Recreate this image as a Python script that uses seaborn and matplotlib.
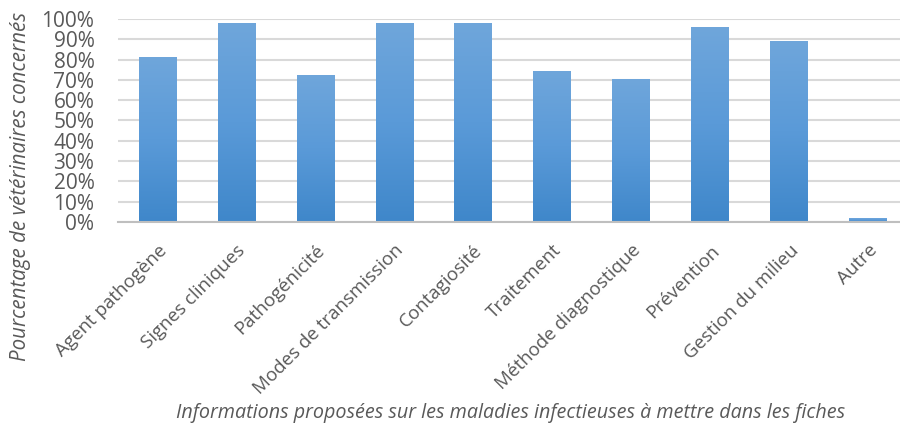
import numpy as np
import pandas as pd
import matplotlib
matplotlib.use("Agg")
import matplotlib.pyplot as plt
import seaborn as sns
from matplotlib.colors import LinearSegmentedColormap
from matplotlib.ticker import PercentFormatter

categories = ["Agent pathogène", "Signes cliniques", "Pathogénicité", "Modes de transmission",
              "Contagiosité", "Traitement", "Méthode diagnostique", "Prévention",
              "Gestion du milieu", "Autre"]
values = [81, 98, 72, 98, 98, 74, 70, 96, 89, 1.5]

sns.set_theme(style="white")
plt.rcParams['font.family'] = ['Open Sans', 'DejaVu Sans']

df = pd.DataFrame({"cat": categories, "val": values})

fig = plt.figure(figsize=(9, 4.3), dpi=100)
ax = fig.add_axes([118/900, 1-222/430, 1-118/900, (222-19)/430])

sns.barplot(data=df, x="cat", y="val", ax=ax, color="#5b9bd5", width=0.48, saturation=1)

cmap = LinearSegmentedColormap.from_list("g", ["#3f87ca", "#5a9ad8", "#6fa6db"])
grad = np.linspace(0, 1, 256).reshape(-1, 1)
for p in ax.patches:
    x0, y0 = p.get_x(), p.get_y()
    w, h = p.get_width(), p.get_height()
    ax.imshow(grad, cmap=cmap, aspect="auto", origin="lower",
              extent=(x0, x0 + w, y0, y0 + h), zorder=3)
    p.set_visible(False)
ax.set_ylim(0, 100)
ax.set_xlim(-0.5, 9.4)

ax.set_yticks(np.arange(0, 101, 10))
ax.yaxis.set_major_formatter(PercentFormatter(decimals=0))
ax.grid(axis="y", color="#d9d9d9", linewidth=1.5, zorder=0)
ax.set_axisbelow(True)
for s in ["top", "right", "left"]:
    ax.spines[s].set_visible(False)
ax.spines["bottom"].set_color("#bfbfbf")
ax.spines["bottom"].set_linewidth(1.5)
ax.spines["bottom"].set_zorder(4)

ax.tick_params(axis="y", labelsize=15, colors="#595959", length=0, pad=17)
ax.tick_params(axis="x", labelsize=13.5, colors="#595959", length=0, pad=14)
for lbl in ax.get_xticklabels():
    lbl.set_rotation(45)
    lbl.set_ha("right")
    lbl.set_rotation_mode("anchor")

ax.set_xlabel("")
ax.set_ylabel("")
fig.text(511/900, 1-413/430, "Informations proposées sur les maladies infectieuses à mettre dans les fiches",
         ha="center", va="center", fontsize=14.2, style="italic", color="#595959")
fig.text(21/900, 1-186/430, "Pourcentage de vétérinaires concernés",
         ha="center", va="center", rotation=90, fontsize=14.8, style="italic", color="#595959")

fig.savefig("out.png", dpi=100)
